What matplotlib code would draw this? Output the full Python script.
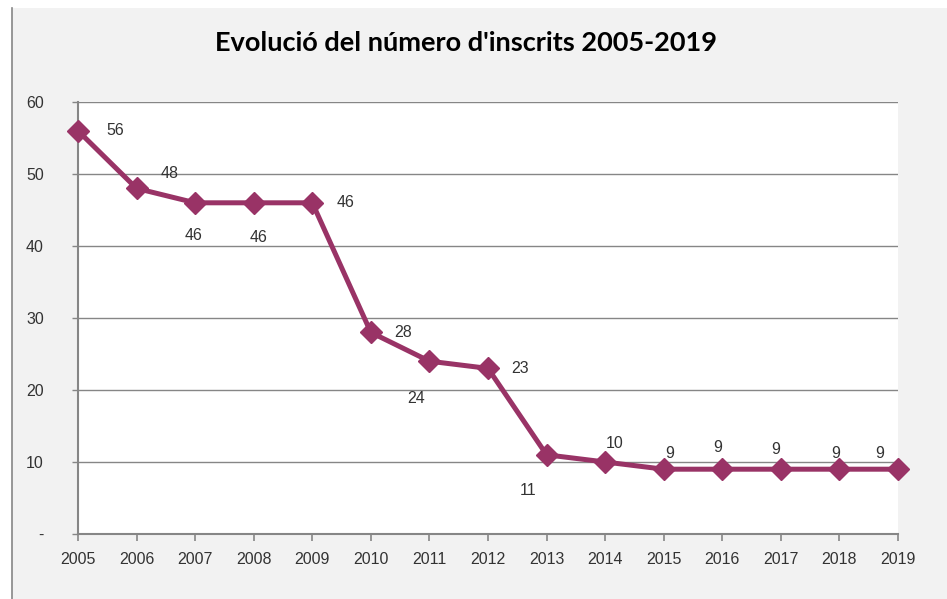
import matplotlib
matplotlib.use("Agg")
import matplotlib.pyplot as plt
from matplotlib.patches import Rectangle
from matplotlib.lines import Line2D

years = ['2005', '2006', '2007', '2008', '2009', '2010', '2011', '2012',
         '2013', '2014', '2015', '2016', '2017', '2018', '2019']
inscrits = [56, 48, 46, 46, 46, 28, 24, 23, 11, 10, 9, 9, 9, 9, 9]
y_ticks = [0, 10, 20, 30, 40, 50, 60]
y_tick_labels = ['-', '10', '20', '30', '40', '50', '60']

# label offsets (pixels, dx right / dy up) - Excel placed them unevenly
label_offsets = [(37, 0), (33, 15), (-2, -33), (5, -35), (33, 0), (32, 0),
                 (-13, -37), (32, 0), (-19, -36), (9, 19), (6, 16),
                 (-5, 22), (-5, 20), (-4, 16), (-18, 16)]

LINE_COLOR = '#993366'
GRID_COLOR = '#868686'
TEXT_COLOR = '#333333'

W, H = 947, 599
fig = plt.figure(figsize=(W / 100, H / 100), dpi=100)
fig.patch.set_facecolor('white')

# chart area background + left border
fig.patches.append(Rectangle((12 / W, 0), 1 - 12 / W, 1 - 8 / H,
                             transform=fig.transFigure, facecolor='#f2f2f2',
                             edgecolor='none', zorder=-10))
fig.lines.append(Line2D([12 / W, 12 / W], [0, 1 - 8 / H], transform=fig.transFigure,
                        color=GRID_COLOR, lw=1.2, zorder=-9))

ax = fig.add_axes([78 / W, 65 / H, 820 / W, 432 / H])
ax.set_facecolor('white')

x = list(range(len(years)))
ax.plot(x, inscrits, color=LINE_COLOR, lw=3.6, marker='D', ms=11.5,
        markeredgecolor=LINE_COLOR, zorder=5, clip_on=False)

for xi, v, (dx, dy) in zip(x, inscrits, label_offsets):
    ax.annotate(str(v), (xi, v), xytext=(dx * 0.72, dy * 0.72),
                textcoords='offset points', ha='center', va='center',
                fontsize=11.5, color=TEXT_COLOR, family='Liberation Sans')

ax.set_xlim(0, len(years) - 1)
ax.set_ylim(0, 60)
ax.set_xticks(x)
ax.set_xticklabels(years)
ax.set_yticks(y_ticks)
ax.set_yticklabels(y_tick_labels)

ax.yaxis.grid(True, color=GRID_COLOR, lw=1.0)
ax.set_axisbelow(True)
for s in ['top', 'right']:
    ax.spines[s].set_visible(False)
for s in ['left', 'bottom']:
    ax.spines[s].set_color(GRID_COLOR)
    ax.spines[s].set_linewidth(1.5)

ax.tick_params(axis='x', length=5, width=1.2, color=GRID_COLOR, pad=8,
               labelsize=11.5, labelcolor=TEXT_COLOR)
ax.tick_params(axis='y', length=4.5, width=1.0, color=GRID_COLOR, pad=20,
               labelsize=11.5, labelcolor=TEXT_COLOR)
for lab in ax.get_xticklabels() + ax.get_yticklabels():
    lab.set_family('Liberation Sans')

fig.text(466 / W, 1 - 43 / H, "Evolució del número d'inscrits 2005-2019",
         ha='center', va='center', fontsize=19.5, fontweight='bold',
         family='Lato', color='black')

fig.savefig('out.png', dpi=100, facecolor=fig.get_facecolor())
